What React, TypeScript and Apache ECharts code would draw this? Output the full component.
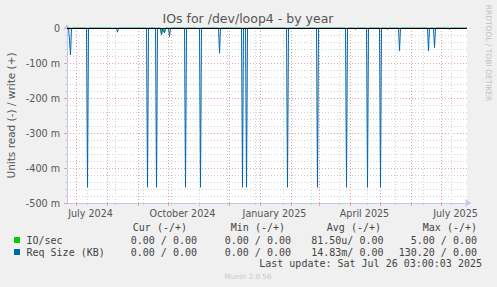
import React, { useEffect, useRef } from 'react';
import * as echarts from 'echarts';

// ---- data ----
const rangeStart = '2024-06-21T12:00:00';
const rangeEnd = '2025-07-26T12:00:00';

const titleText = 'IOs for /dev/loop4 - by year';
const yAxisTitle = 'Units read (-) / write (+)';

// Req Size (KB), read side (negative), daily samples that differ from zero
const reqSizeDates = [
  '2024-06-24', '2024-06-25', '2024-07-12', '2024-08-06', '2024-08-11',
  '2024-09-10', '2024-09-19', '2024-09-24', '2024-09-26', '2024-09-27',
  '2024-10-02', '2024-10-18', '2024-10-30', '2024-11-02', '2024-11-21',
  '2024-12-14', '2024-12-18', '2025-01-28', '2025-02-27', '2025-03-28',
  '2025-04-06', '2025-04-18', '2025-05-01', '2025-05-08', '2025-05-20',
  '2025-06-18', '2025-06-24', '2025-07-09',
];
const reqSizeValues = [
  -0.035, -0.077, -0.455, -0.003, -0.012,
  -0.455, -0.455, -0.02, -0.01, -0.014,
  -0.025, -0.455, -0.003, -0.455, -0.072,
  -0.455, -0.455, -0.455, -0.455, -0.455,
  -0.004, -0.455, -0.455, -0.004, -0.065,
  -0.065, -0.056, -0.004,
];

// IO/sec, read side (negative)
const ioDates = ['2024-09-24', '2024-09-26', '2024-09-27'];
const ioValues = [-0.018, -0.008, -0.012];

const monthStarts = [
  '2024-07-01', '2024-08-01', '2024-09-01', '2024-10-01', '2024-11-01',
  '2024-12-01', '2025-01-01', '2025-02-01', '2025-03-01', '2025-04-01',
  '2025-05-01', '2025-06-01', '2025-07-01',
];
const minorGridDates = [
  '2024-07-12', '2024-08-09', '2024-09-06', '2024-10-04', '2024-11-01',
  '2024-11-29', '2024-12-27', '2025-01-24', '2025-02-21', '2025-03-21',
  '2025-04-18', '2025-05-16', '2025-06-13', '2025-07-11',
];
const xLabelDates = ['2024-07-15', '2024-10-15', '2025-01-15', '2025-04-15', '2025-07-15'];
const xLabels = ['July 2024', 'October 2024', 'January 2025', 'April 2025', 'July 2025'];

const yMin = -0.5;
const yMax = 0;
const yStep = 0.1;

const legendNames = ['IO/sec', 'Req Size (KB)'];
const columnHeaders = ['Cur (-/+)', 'Min (-/+)', 'Avg (-/+)', 'Max (-/+)'];
const legendCur = ['0.00 / 0.00', '0.00 / 0.00'];
const legendMin = ['0.00 / 0.00', '0.00 / 0.00'];
const legendAvg = ['81.50u/ 0.00', '14.83m/ 0.00'];
const legendMax = ['5.00 / 0.00', '130.20 / 0.00'];
const lastUpdate = 'Last update: Sat Jul 26 03:00:03 2025';
const sideText = 'RRDTOOL / TOBI OETIKER';
const footerText = 'Munin 2.0.56';

// ---- styles ----
const seriesColors = ['#00cc00', '#0066b3'];
const SANS = 'DejaVu Sans';
const MONO = 'DejaVu Sans Mono';
const majorGrid = '#e6a0a0';
const minorGrid = '#d2d2d2';
const axisColor = '#c4c4ec';

const DAY = 86400000;
const ts = (s: string) => new Date(s.includes('T') ? s : s + 'T00:00:00').getTime();

function buildSeries(dates: string[], values: number[]) {
  const pts = new Map<number, number>();
  dates.forEach((d, i) => pts.set(ts(d), values[i]));
  const keys = new Set<number>([ts(rangeStart), ts(rangeEnd)]);
  pts.forEach((_, t) => {
    keys.add(t - DAY);
    keys.add(t);
    keys.add(t + DAY);
  });
  return Array.from(keys)
    .sort((a, b) => a - b)
    .map((t) => [t, pts.has(t) ? (pts.get(t) as number) : 0]);
}

export default function App() {
  const ref = useRef<HTMLDivElement>(null);

  useEffect(() => {
    if (!ref.current) return;
    const chart = echarts.init(ref.current, undefined, { renderer: 'svg' });
    const xMin = ts(rangeStart);
    const xMax = ts(rangeEnd);
    const labelTs = xLabelDates.map(ts);

    const gLeft = 67;
    const gTop = 28;
    const gW = 400;
    const gH = 175;

    const legendRowsY = [240, 252];
    const colEnds = [197, 291, 383.5, 477];
    const headerEnds = [187, 285, 381, 477];

    const txt = (x: number, y: number, text: string, font: string, fill: string, align: string, extra: any = {}) => ({
      type: 'text', x, y, ...extra,
      style: { text, font, fill, align, verticalAlign: 'middle', textAlign: align, textVerticalAlign: 'middle' },
    });

    const graphics: any[] = [
      txt(248, 18, titleText, `12.5px '${SANS}'`, '#555', 'center'),
      txt(11, 115.5, yAxisTitle, `10.5px '${SANS}'`, '#555', 'center', { rotation: Math.PI / 2 }),
      txt(488, 53, sideText, `7.5px '${SANS}'`, '#c0c0c0', 'center', { rotation: -Math.PI / 2 }),
      txt(248, 276.5, footerText, `7.2px '${SANS}'`, '#c8c8c8', 'center'),
      txt(482, 263.5, lastUpdate, `10px '${MONO}'`, '#444', 'right'),
    ];
    columnHeaders.forEach((h, i) => {
      graphics.push(txt(headerEnds[i], 227, h, `10px '${MONO}'`, '#444', 'right'));
    });
    legendNames.forEach((name, r) => {
      const y = legendRowsY[r];
      graphics.push({
        type: 'rect', shape: { x: 14, y: y - 3, width: 6, height: 6 },
        style: { fill: seriesColors[r] },
      });
      graphics.push(txt(26.5, y, name, `10px '${MONO}'`, '#444', 'left'));
      [legendCur[r], legendMin[r], legendAvg[r], legendMax[r]].forEach((v, c) => {
        graphics.push(txt(colEnds[c], y, v, `10px '${MONO}'`, '#444', 'right'));
      });
    });

    const nearestLabel = (v: number) => {
      let best = 0;
      let bd = Infinity;
      labelTs.forEach((t, i) => {
        const d = Math.abs(t - v);
        if (d < bd) { bd = d; best = i; }
      });
      return xLabels[best];
    };

    chart.setOption({
      animation: false,
      backgroundColor: '#f0f0f0',
      grid: {
        left: gLeft, top: gTop, width: gW, height: gH,
        show: true, backgroundColor: '#ffffff', borderWidth: 0,
      },
      xAxis: [
        {
          type: 'value', min: xMin, max: xMax, position: 'bottom',
          axisLine: {
            show: true, onZero: false,
            lineStyle: { color: axisColor, width: 1 },
            symbol: ['none', 'arrow'], symbolSize: [6, 6], symbolOffset: [0, 4],
          },
          axisTick: {
            show: true, length: 3, inside: false,
            customValues: monthStarts.map(ts),
            lineStyle: { color: majorGrid, width: 1 },
          },
          splitLine: { show: true, lineStyle: { color: majorGrid, width: 1, type: [1, 2] } },
          axisLabel: {
            show: true, customValues: labelTs,
            formatter: (v: number) => nearestLabel(v),
            fontFamily: SANS, fontSize: 9.6, color: '#555', margin: 5,
            hideOverlap: false, showMinLabel: true, showMaxLabel: true,
          },
        },
        {
          type: 'value', min: xMin, max: xMax, position: 'bottom',
          axisLine: { show: false, onZero: false },
          axisTick: {
            show: true, length: 2, customValues: minorGridDates.map(ts),
            lineStyle: { color: minorGrid, width: 1 },
          },
          splitLine: { show: true, lineStyle: { color: minorGrid, width: 1, type: [1, 2] } },
          axisLabel: { show: false },
        },
      ],
      yAxis: {
        type: 'value', min: yMin, max: yMax, interval: yStep,
        axisLine: {
          show: true, onZero: false,
          lineStyle: { color: axisColor, width: 1 },
          symbol: ['none', 'arrow'], symbolSize: [6, 6], symbolOffset: [0, 4],
        },
        axisTick: { show: true, length: 3, lineStyle: { color: majorGrid } },
        minorTick: { show: true, splitNumber: 5, length: 2, lineStyle: { color: minorGrid } },
        splitLine: { show: true, lineStyle: { color: majorGrid, width: 1, type: [1, 2] } },
        minorSplitLine: { show: true, lineStyle: { color: minorGrid, width: 1, type: [1, 2] } },
        axisLabel: {
          fontFamily: SANS, fontSize: 9.6, color: '#555', margin: 7,
          formatter: (v: number) => (Math.abs(v) < 1e-9 ? '0' : `${Math.round(v * 1000)} m`),
        },
      },
      series: [
        {
          name: legendNames[0], type: 'line', xAxisIndex: 0, yAxisIndex: 0,
          data: buildSeries(ioDates, ioValues),
          symbol: 'none', showSymbol: false,
          lineStyle: { color: seriesColors[0], width: 1 },
          itemStyle: { color: seriesColors[0] },
          z: 3,
        },
        {
          name: legendNames[1], type: 'line', xAxisIndex: 0, yAxisIndex: 0,
          data: buildSeries(reqSizeDates, reqSizeValues),
          symbol: 'none', showSymbol: false,
          lineStyle: { color: seriesColors[1], width: 1 },
          itemStyle: { color: seriesColors[1] },
          z: 4,
          markLine: {
            silent: true, symbol: ['none', 'none'],
            label: { show: false },
            lineStyle: { color: '#000', width: 1, type: 'solid' },
            data: [{ yAxis: 0 }],
          },
        },
      ],
      graphic: graphics,
    });

    return () => chart.dispose();
  }, []);

  return (
    <div
      ref={ref}
      style={{ position: 'fixed', left: 0, top: 0, width: 497, height: 287 }}
    />
  );
}
